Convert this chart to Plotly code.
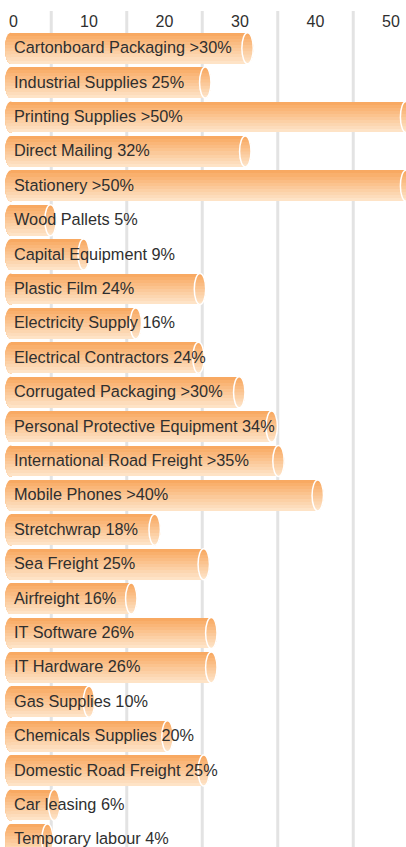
import math
import numpy as np
import plotly.graph_objects as go

CATEGORIES = [
    "Cartonboard Packaging", "Industrial Supplies", "Printing Supplies", "Direct Mailing",
    "Stationery", "Wood Pallets", "Capital Equipment", "Plastic Film", "Electricity Supply",
    "Electrical Contractors", "Corrugated Packaging", "Personal Protective Equipment",
    "International Road Freight", "Mobile Phones", "Stretchwrap", "Sea Freight", "Airfreight",
    "IT Software", "IT Hardware", "Gas Supplies", "Chemicals Supplies", "Domestic Road Freight",
    "Car leasing", "Temporary labour",
]
VALUES = [31, 25.4, 52, 30.7, 52, 4.9, 9.3, 24.7, 16.2, 24.5, 29.9, 34.2, 35.1, 40.3,
          18.7, 25.2, 15.6, 26.2, 26.2, 10.0, 20.4, 25.2, 5.4, 4.5]
PCT_LABELS = [">30%", "25%", ">50%", "32%", ">50%", "5%", "9%", "24%", "16%", "24%", ">30%",
              "34%", ">35%", ">40%", "18%", "25%", "16%", "26%", "26%", "10%", "20%", "25%",
              "6%", "4%"]
TICKS = [0, 10, 20, 30, 40, 50]
GRID_VALUES = [5, 15, 25, 35, 45]

# styling
BASE = -0.37
HALF = 0.45          # half bar thickness (category units)
CAP_A = 0.755        # ellipse half-width in value units
NS = 10
TOP = np.array([248, 166, 92])
BOT = np.array([254, 230, 204])
FONT = "Liberation Sans, Arial, sans-serif"

def col(t):
    c = TOP + (BOT - TOP) * t
    return "rgb(%d,%d,%d)" % tuple(int(round(v)) for v in c)

def ell_path(cx, cy, a, b, yk, n=28):
    s = max(-1.0, min(1.0, (yk - cy) / b))
    s0 = math.asin(s)
    ts = np.linspace(s0, math.pi - s0, n)
    pts = [(cx + a * math.cos(t), cy + b * math.sin(t)) for t in ts]
    return "M " + " L ".join("%.4f,%.4f" % p for p in pts) + " Z"

n = len(CATEGORIES)
ys = list(range(n))
fig = go.Figure()

for k in range(NS):
    top = -HALF + k * (2 * HALF / NS)
    fig.add_trace(go.Bar(
        orientation="h", y=ys, x=[v - BASE for v in VALUES], base=BASE,
        offset=top, width=HALF - top,
        marker=dict(color=col((k + 0.5) / NS), line=dict(width=0)),
        hoverinfo="skip", showlegend=False,
    ))

PLOT_H = 847 - 31
shapes = []
for g in GRID_VALUES:
    shapes.append(dict(type="line", xref="x", yref="paper", x0=g, x1=g, y0=0, y1=1 + 20 / PLOT_H,
                       line=dict(color="#e3e3e3", width=3), layer="below"))

for i, v in enumerate(VALUES):
    for k in range(NS):
        yk = i - HALF + k * (2 * HALF / NS)
        c = col((k + 0.5) / NS)
        shapes.append(dict(type="path", xref="x", yref="y", path=ell_path(BASE, i, CAP_A, HALF, yk),
                           fillcolor=c, line=dict(width=0), layer="below"))
    for k in range(NS):
        yk = i - HALF + k * (2 * HALF / NS)
        c = col((k + 0.5) / NS)
        shapes.append(dict(type="path", xref="x", yref="y", path=ell_path(v, i, CAP_A, HALF, yk),
                           fillcolor=c, line=dict(width=0), layer="above"))
    shapes.append(dict(type="circle", xref="x", yref="y", x0=v - CAP_A, x1=v + CAP_A,
                       y0=i - HALF, y1=i + HALF, line=dict(color="white", width=1.5),
                       fillcolor="rgba(0,0,0,0)", layer="above"))

annotations = []
for i, (c, p) in enumerate(zip(CATEGORIES, PCT_LABELS)):
    annotations.append(dict(x=0, y=i, xref="x", yref="y", text=f"{c} {p}", showarrow=False,
                            xanchor="left", yanchor="middle", xshift=-2, yshift=1,
                            font=dict(family=FONT, size=16.3, color="#2f2f2f")))

fig.update_layout(
    width=406, height=847,
    margin=dict(l=0, r=0, t=31, b=0),
    paper_bgcolor="white", plot_bgcolor="white",
    barmode="overlay", bargap=0,
    shapes=shapes, annotations=annotations,
    xaxis=dict(range=[-13.5 / 7.55, (406 - 13.5) / 7.55], side="top", tickvals=TICKS,
               ticktext=[str(t) for t in TICKS], showgrid=False, zeroline=False, showline=False,
               ticks="", tickfont=dict(family=FONT, size=16, color="#2f2f2f"), fixedrange=True),
    yaxis=dict(range=[-0.5 + PLOT_H / 34.4, -0.5], showgrid=False, zeroline=False, showline=False,
               showticklabels=False, fixedrange=True),
)

fig.write_html("out.html", config={"displayModeBar": False},
               post_script="document.body.style.margin='0';document.body.style.overflow='hidden';")
